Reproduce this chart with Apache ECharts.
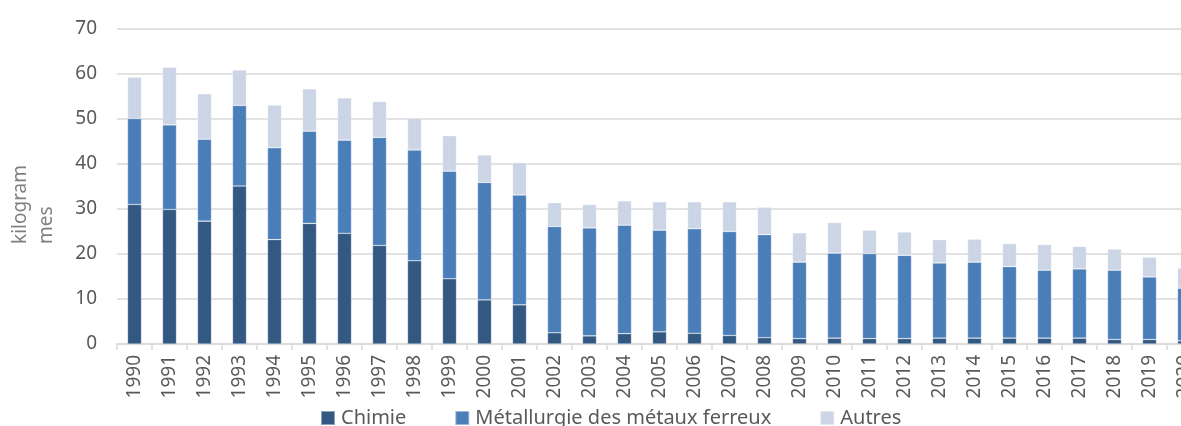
<!DOCTYPE html>
<html>
<head>
<meta charset="utf-8">
<title>Chart</title>
<script src="https://cdn.jsdelivr.net/npm/echarts@6/dist/echarts.min.js"></script>
<style>
	html, body { margin: 0; padding: 0; background: #fff; overflow: hidden; }
	/* plus large que la fenêtre : 2020 est coupé à droite */
	#chart { width: 1202px; height: 426px; }
</style>
</head>
<body>
<div id="chart"></div>
<script>
// années
var years = ['1990', '1991', '1992', '1993', '1994', '1995', '1996', '1997', '1998', '1999',
	'2000', '2001', '2002', '2003', '2004', '2005', '2006', '2007', '2008', '2009',
	'2010', '2011', '2012', '2013', '2014', '2015', '2016', '2017', '2018', '2019', '2020'];
// kilogrammes par secteur
var chimie = [31.0, 29.9, 27.3, 35.1, 23.2, 26.8, 24.6, 21.9, 18.5, 14.5,
	9.8, 8.7, 2.5, 1.8, 2.3, 2.7, 2.4, 1.9, 1.4, 1.2,
	1.3, 1.2, 1.2, 1.3, 1.3, 1.3, 1.3, 1.3, 1.0, 1.0, 0.7];
var metallurgie = [19.1, 18.8, 18.2, 17.9, 20.4, 20.5, 20.7, 24.0, 24.6, 23.9,
	26.1, 24.4, 23.6, 24.0, 24.1, 22.6, 23.2, 23.1, 22.9, 17.0,
	18.9, 18.9, 18.5, 16.7, 16.9, 15.9, 15.1, 15.4, 15.4, 13.9, 11.7];
var autres = [9.2, 12.8, 10.1, 7.9, 9.5, 9.4, 9.4, 8.0, 7.1, 7.9,
	6.1, 7.2, 5.3, 5.2, 5.4, 6.3, 6.0, 6.6, 6.1, 6.5,
	6.8, 5.2, 5.2, 5.2, 5.1, 5.1, 5.7, 5.0, 4.7, 4.4, 4.5];
var yTicks = { min: 0, max: 70, interval: 10 };

var FONT = '"Noto Sans", "Liberation Sans", sans-serif';
var myChart = echarts.init(document.getElementById('chart'), null, { renderer: 'canvas' });

function barSerie(name, data, color) {
	return {
		name: name,
		type: 'bar',
		stack: 'total',
		barWidth: 14,
		data: data,
		itemStyle: { color: color, borderColor: 'rgba(255,255,255,0.45)', borderWidth: 0.6 },
		emphasis: { disabled: true }
	};
}

var option = {
	animation: false,
	textStyle: { fontFamily: FONT },
	grid: { left: 117, right: 0, top: 29, bottom: 82, containLabel: false },
	legend: {
		left: 320,
		top: 408,
		padding: 0,
		itemWidth: 14,
		itemHeight: 14,
		itemGap: 48,
		icon: 'rect',
		textStyle: { fontFamily: FONT, fontSize: 20, color: '#595959', padding: [0, 0, 0, 1] },
		data: ['Chimie', 'Métallurgie des métaux ferreux', 'Autres']
	},
	xAxis: {
		type: 'category',
		data: years,
		axisLine: { lineStyle: { color: '#d9d9d9', width: 1.5 } },
		axisTick: { show: true, length: 6, lineStyle: { color: '#d9d9d9', width: 1.5 } },
		axisLabel: { rotate: 90, margin: 11, fontSize: 19, color: '#595959', fontFamily: FONT, interval: 0 }
	},
	yAxis: {
		type: 'value',
		min: yTicks.min,
		max: yTicks.max,
		interval: yTicks.interval,
		axisLine: { show: false },
		axisTick: { show: false },
		splitLine: { lineStyle: { color: '#d9d9d9', width: 1.5 } },
		axisLabel: { margin: 20, fontSize: 19, color: '#595959', fontFamily: FONT }
	},
	graphic: [{
		type: 'text',
		x: 8,
		y: 244,
		rotation: Math.PI / 2,
		silent: true,
		style: {
			text: 'kilogram\nmes',
			fill: '#808080',
			font: '19px ' + FONT,
			lineHeight: 26,
			textAlign: 'left',
			textVerticalAlign: 'top'
		}
	}],
	series: [
		barSerie('Chimie', chimie, '#335882'),
		barSerie('Métallurgie des métaux ferreux', metallurgie, '#4a7eb9'),
		barSerie('Autres', autres, '#ccd5e6')
	]
};
myChart.setOption(option);
</script>
</body>
</html>
